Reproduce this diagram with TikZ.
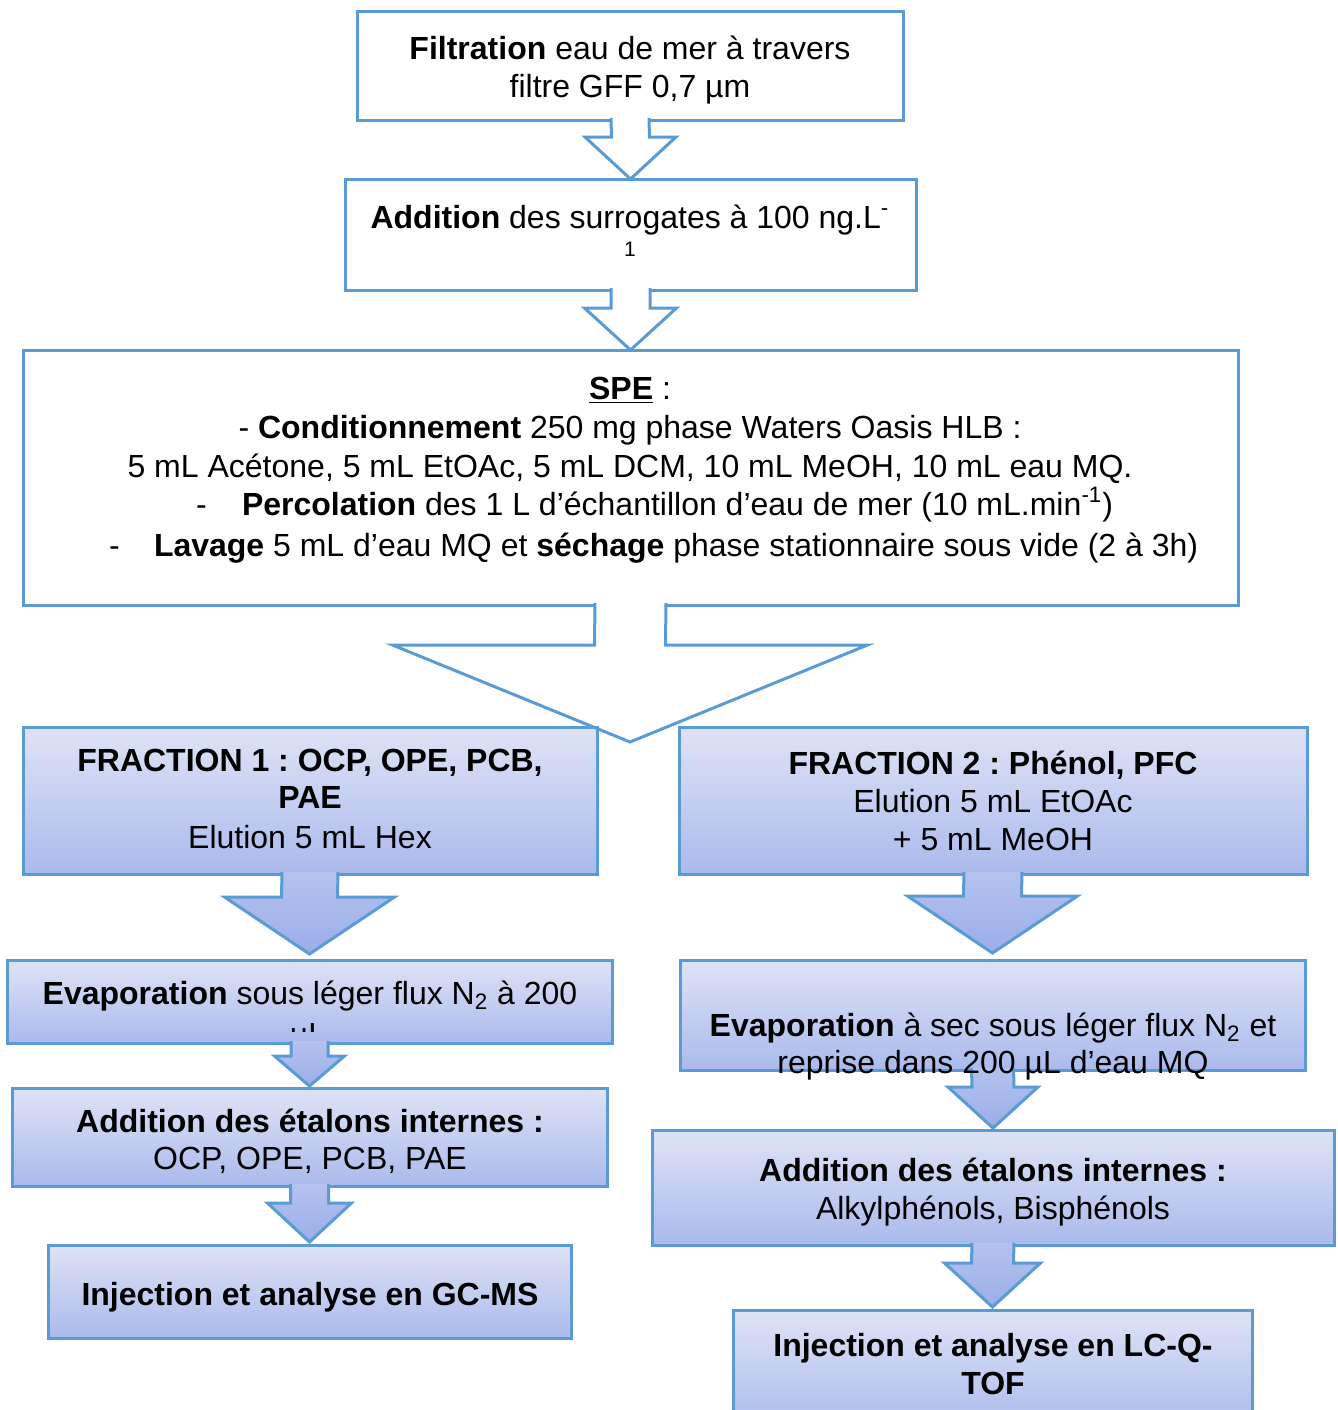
\documentclass[tikz,border=0pt]{standalone}
\usepackage{fontspec}
\setmainfont{Liberation Sans}
\usetikzlibrary{calc}
\frenchspacing
\definecolor{bord}{HTML}{5B9BD5}
\definecolor{gtop}{HTML}{DEE3F5}
\definecolor{gbot}{HTML}{AABAEC}
\definecolor{atop}{HTML}{B4C2EE}
\definecolor{abot}{HTML}{9AAEE8}
\tikzset{
  plainbox/.style={draw=bord, line width=1.5pt, fill=white, inner sep=0pt, outer sep=0pt, rectangle},
  gradbox/.style={draw=bord, line width=1.5pt, top color=gtop, bottom color=gbot, inner sep=0pt, outer sep=0pt, rectangle},
  txt/.style={inner sep=0pt, outer sep=0pt, anchor=base, font=\fontsize{16}{19}\selectfont\frenchspacing},
  arrline/.style={draw=bord, line width=1.5pt, line join=miter},
  arrwhite/.style={fill=white},
  arrgrad/.style={top color=atop, bottom color=abot},
}
\newcommand{\bx}[6]{\node[#1, minimum width={(#5-#3)*0.5pt}, minimum height={(#6-#4)*0.5pt}] (#2) at ({(#3+#5)/2},{(#4+#6)/2}) {};}
% #1 fill style, #2 source node, #3 tip coordinate, #4 shaft half width, #5 head half width, #6 head length
\newcommand{\barrow}[6]{%
  \path[#1] ($(#2.south)+(-#4,-2)$) -- ($(#3)+(-#4,-#6)$) -- ($(#3)+(-#5,-#6)$) -- (#3) -- ($(#3)+(#5,-#6)$) -- ($(#3)+(#4,-#6)$) -- ($(#2.south)+(#4,-2)$) -- cycle;
  \draw[arrline] ($(#2.south)+(-#4,-2)$) -- ($(#3)+(-#4,-#6)$) -- ($(#3)+(-#5,-#6)$) -- (#3) -- ($(#3)+(#5,-#6)$) -- ($(#3)+(#4,-#6)$) -- ($(#2.south)+(#4,-2)$);
}
\begin{document}
\begin{tikzpicture}[x=0.5pt, y=-0.5pt]
\useasboundingbox (0,0) rectangle (1338,1410);
\clip (0,0) rectangle (1338,1410);
\fill[white] (0,0) rectangle (1338,1410);

% top plain boxes
\bx{plainbox}{filt}{357}{11}{903}{120}
\bx{plainbox}{surr}{345}{179}{916}{290}
\bx{plainbox}{spe}{23}{350}{1238}{605}

\coordinate (tip1) at (surr.north);
\coordinate (tip2) at (spe.north);
\barrow{arrwhite}{filt}{tip1}{19}{45.5}{42}
\barrow{arrwhite}{surr}{tip2}{19.5}{46}{42}

% big split arrow
\coordinate (split) at (630,742);
\path[arrwhite] ($(spe.south)+(-35.5,-2)$) -- ($(split)+(-35.5,-97)$) -- ($(split)+(-237.5,-97)$) -- (split) -- ($(split)+(237.5,-97)$) -- ($(split)+(35.5,-97)$) -- ($(spe.south)+(35.5,-2)$) -- cycle;

% fraction boxes
\bx{gradbox}{fr1}{23}{727}{597}{874}
\bx{gradbox}{fr2}{679}{727}{1307}{874}

\draw[arrline] ($(spe.south)+(-35.5,-2)$) -- ($(split)+(-35.5,-97)$) -- ($(split)+(-237.5,-97)$) -- (split) -- ($(split)+(237.5,-97)$) -- ($(split)+(35.5,-97)$) -- ($(spe.south)+(35.5,-2)$);

% lower boxes
\bx{gradbox}{evl}{7}{960}{612}{1043}
\bx{gradbox}{addl}{12}{1088}{607}{1186}
\bx{gradbox}{injl}{48}{1245}{571}{1338}
\bx{gradbox}{evr}{680}{960}{1305}{1070}
\bx{gradbox}{addr}{652}{1130}{1334}{1245}
\bx{gradbox}{injr}{733}{1310}{1252}{1430}

\coordinate (tip3) at ($(evl.north)+(0,-6)$);
\coordinate (tip4) at ($(addl.north)+(0,-2)$);
\coordinate (tip5) at ($(injl.north)+(0,-3)$);
\coordinate (tip6) at ($(evr.north)+(0,-7)$);
\coordinate (tip7) at ($(addr.north)+(0,-2)$);
\coordinate (tip8) at ($(injr.north)+(0,-3)$);
\barrow{arrgrad}{fr1}{tip3}{28}{85}{57}
\barrow{arrgrad}{evl}{tip4}{18.5}{35}{30}
\barrow{arrgrad}{addl}{tip5}{19}{42}{39}
\barrow{arrgrad}{fr2}{tip6}{29}{85}{57}
\barrow{arrgrad}{evr}{tip7}{21}{45}{41}
\barrow{arrgrad}{addr}{tip8}{21}{48}{44}

% texts
\node[txt] (filtA) at (630,59) {\textbf{Filtration} eau de mer à travers};
\node[txt] (filtB) at (630,97) {filtre GFF 0,7 µm};
\node[txt] (surrA) at (630,228) {\textbf{Addition} des surrogates à 100 ng.L\textsuperscript{-}};
\node[txt, font=\fontsize{10.5}{12}\selectfont] (surrB) at (630,256) {1};

\node[txt] (speA) at (630,399) {\underline{\textbf{SPE}} :};
\node[txt] (speB) at (630,438) {- \textbf{Conditionnement} 250 mg phase Waters Oasis HLB :};
\node[txt] (speC) at (630,477) {5 mL Acétone, 5 mL EtOAc, 5 mL DCM, 10 mL MeOH, 10 mL eau MQ.};
\node[txt, anchor=base west] (speD) at (196,515) {\makebox[23pt][l]{-}\textbf{Percolation} des 1 L d’échantillon d’eau de mer (10 mL.min\textsuperscript{-1})};
\node[txt, anchor=base west] (speE) at (109,556) {\makebox[22.5pt][l]{-}\textbf{Lavage} 5 mL d’eau MQ et \textbf{séchage} phase stationnaire sous vide (2 à 3h)};

\node[txt] (fr1A) at (310,771) {\textbf{FRACTION 1 : OCP, OPE, PCB,}};
\node[txt] (fr1B) at (310,808) {\textbf{PAE}};
\node[txt] (fr1C) at (310,848) {Elution 5 mL Hex};
\node[txt] (fr2A) at (993,774) {\textbf{FRACTION 2 : Phénol, PFC}};
\node[txt] (fr2B) at (993,812) {Elution 5 mL EtOAc};
\node[txt] (fr2C) at (993,850) {+ 5 mL MeOH};

\node[txt] (evlA) at (310,1004) {\textbf{Evaporation} sous léger flux N\textsubscript{2} à 200};
\begin{scope}
  \clip (7,960) rectangle (612,1031);
  \node[txt] (evlB) at (308,1045) {µL};
\end{scope}
\node[txt] (addlA) at (310,1132) {\textbf{Addition des étalons internes :}};
\node[txt] (addlB) at (310,1169) {OCP, OPE, PCB, PAE};
\node[txt] (injlA) at (310,1305) {\textbf{Injection et analyse en GC-MS}};

\node[txt] (evrA) at (993,1036) {\textbf{Evaporation} à sec sous léger flux N\textsubscript{2} et};
\node[txt] (evrB) at (993,1073) {reprise dans 200 µL d’eau MQ};
\node[txt] (addrA) at (993,1181) {\textbf{Addition des étalons internes :}};
\node[txt] (addrB) at (993,1219) {Alkylphénols, Bisphénols};
\node[txt] (injrA) at (993,1356) {\textbf{Injection et analyse en LC-Q-}};
\node[txt] (injrB) at (993,1394) {\textbf{TOF}};
\end{tikzpicture}
\end{document}
